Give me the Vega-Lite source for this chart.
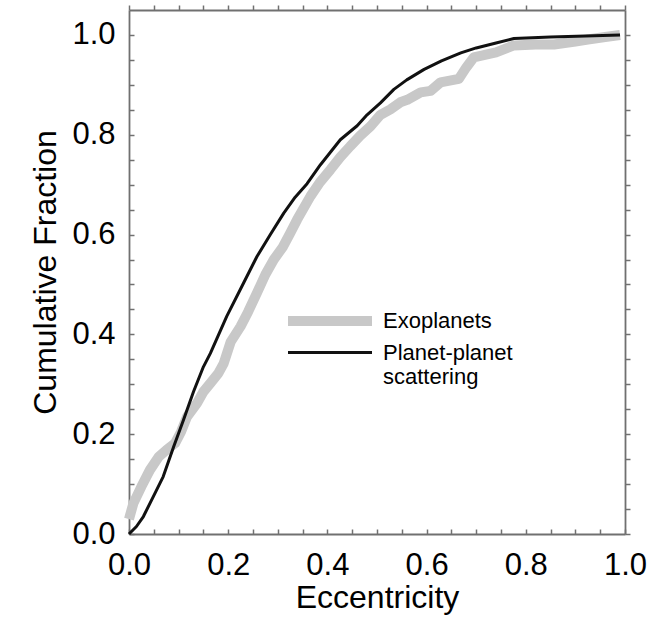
{
  "$schema": "https://vega.github.io/schema/vega-lite/v6.json",
  "width": 496,
  "height": 524,
  "autosize": {"type": "none"},
  "padding": {"left": 129, "top": 10, "right": 26, "bottom": 86},
  "background": "white",
  "config": {
    "view": {"stroke": null},
    "font": "Liberation Sans",
    "axis": {
      "grid": false,
      "domainColor": "#707070",
      "domainWidth": 1.8,
      "tickColor": "#707070",
      "tickWidth": 1.5,
      "tickSize": -5,
      "labelFont": "Liberation Sans",
      "labelFontSize": 31,
      "labelColor": "#000000",
      "labelOverlap": false,
      "labelFlush": false,
      "titleFont": "Liberation Sans",
      "titleFontSize": 32,
      "titleFontWeight": "normal",
      "titleColor": "#000000"
    }
  },
  "datasets": {
    "exo": [
      {"series": "Exoplanets", "e": 0.0, "f": 0.03},
      {"series": "Exoplanets", "e": 0.009, "f": 0.062},
      {"series": "Exoplanets", "e": 0.025, "f": 0.095},
      {"series": "Exoplanets", "e": 0.042, "f": 0.128},
      {"series": "Exoplanets", "e": 0.06, "f": 0.155},
      {"series": "Exoplanets", "e": 0.075, "f": 0.168},
      {"series": "Exoplanets", "e": 0.093, "f": 0.182},
      {"series": "Exoplanets", "e": 0.105, "f": 0.205},
      {"series": "Exoplanets", "e": 0.117, "f": 0.235},
      {"series": "Exoplanets", "e": 0.137, "f": 0.262},
      {"series": "Exoplanets", "e": 0.15, "f": 0.285},
      {"series": "Exoplanets", "e": 0.164, "f": 0.302},
      {"series": "Exoplanets", "e": 0.18, "f": 0.322},
      {"series": "Exoplanets", "e": 0.191, "f": 0.342},
      {"series": "Exoplanets", "e": 0.205, "f": 0.385},
      {"series": "Exoplanets", "e": 0.225, "f": 0.416},
      {"series": "Exoplanets", "e": 0.24, "f": 0.445},
      {"series": "Exoplanets", "e": 0.258, "f": 0.483},
      {"series": "Exoplanets", "e": 0.275, "f": 0.52},
      {"series": "Exoplanets", "e": 0.292, "f": 0.55},
      {"series": "Exoplanets", "e": 0.31, "f": 0.575},
      {"series": "Exoplanets", "e": 0.325, "f": 0.603},
      {"series": "Exoplanets", "e": 0.339, "f": 0.63},
      {"series": "Exoplanets", "e": 0.366, "f": 0.677},
      {"series": "Exoplanets", "e": 0.385, "f": 0.705},
      {"series": "Exoplanets", "e": 0.406, "f": 0.73},
      {"series": "Exoplanets", "e": 0.426, "f": 0.755},
      {"series": "Exoplanets", "e": 0.446, "f": 0.777},
      {"series": "Exoplanets", "e": 0.466, "f": 0.798},
      {"series": "Exoplanets", "e": 0.487, "f": 0.817},
      {"series": "Exoplanets", "e": 0.507, "f": 0.84},
      {"series": "Exoplanets", "e": 0.527, "f": 0.851},
      {"series": "Exoplanets", "e": 0.547, "f": 0.865},
      {"series": "Exoplanets", "e": 0.561, "f": 0.87},
      {"series": "Exoplanets", "e": 0.588, "f": 0.885},
      {"series": "Exoplanets", "e": 0.608, "f": 0.888},
      {"series": "Exoplanets", "e": 0.628, "f": 0.905},
      {"series": "Exoplanets", "e": 0.665, "f": 0.912},
      {"series": "Exoplanets", "e": 0.68, "f": 0.935},
      {"series": "Exoplanets", "e": 0.695, "f": 0.955},
      {"series": "Exoplanets", "e": 0.74, "f": 0.965},
      {"series": "Exoplanets", "e": 0.776, "f": 0.979},
      {"series": "Exoplanets", "e": 0.82, "f": 0.981},
      {"series": "Exoplanets", "e": 0.857, "f": 0.981},
      {"series": "Exoplanets", "e": 0.9, "f": 0.987},
      {"series": "Exoplanets", "e": 0.925, "f": 0.991},
      {"series": "Exoplanets", "e": 0.96, "f": 0.996},
      {"series": "Exoplanets", "e": 0.99, "f": 1.0}
    ],
    "pps": [
      {"series": "Planet-planet scattering", "e": 0.0, "f": 0.0},
      {"series": "Planet-planet scattering", "e": 0.015, "f": 0.015},
      {"series": "Planet-planet scattering", "e": 0.029, "f": 0.035},
      {"series": "Planet-planet scattering", "e": 0.049, "f": 0.075},
      {"series": "Planet-planet scattering", "e": 0.069, "f": 0.115},
      {"series": "Planet-planet scattering", "e": 0.09, "f": 0.175},
      {"series": "Planet-planet scattering", "e": 0.11, "f": 0.229},
      {"series": "Planet-planet scattering", "e": 0.13, "f": 0.285},
      {"series": "Planet-planet scattering", "e": 0.15, "f": 0.335},
      {"series": "Planet-planet scattering", "e": 0.164, "f": 0.362},
      {"series": "Planet-planet scattering", "e": 0.197, "f": 0.436},
      {"series": "Planet-planet scattering", "e": 0.231, "f": 0.503},
      {"series": "Planet-planet scattering", "e": 0.258, "f": 0.556},
      {"series": "Planet-planet scattering", "e": 0.285, "f": 0.6},
      {"series": "Planet-planet scattering", "e": 0.312, "f": 0.643},
      {"series": "Planet-planet scattering", "e": 0.335, "f": 0.675},
      {"series": "Planet-planet scattering", "e": 0.359, "f": 0.702},
      {"series": "Planet-planet scattering", "e": 0.386, "f": 0.74},
      {"series": "Planet-planet scattering", "e": 0.41, "f": 0.77},
      {"series": "Planet-planet scattering", "e": 0.426, "f": 0.79},
      {"series": "Planet-planet scattering", "e": 0.46, "f": 0.818},
      {"series": "Planet-planet scattering", "e": 0.48, "f": 0.84},
      {"series": "Planet-planet scattering", "e": 0.507, "f": 0.864},
      {"series": "Planet-planet scattering", "e": 0.534, "f": 0.891},
      {"series": "Planet-planet scattering", "e": 0.56, "f": 0.91},
      {"series": "Planet-planet scattering", "e": 0.595, "f": 0.931},
      {"series": "Planet-planet scattering", "e": 0.63, "f": 0.948},
      {"series": "Planet-planet scattering", "e": 0.669, "f": 0.964},
      {"series": "Planet-planet scattering", "e": 0.7, "f": 0.974},
      {"series": "Planet-planet scattering", "e": 0.74, "f": 0.984},
      {"series": "Planet-planet scattering", "e": 0.776, "f": 0.993},
      {"series": "Planet-planet scattering", "e": 0.85, "f": 0.996},
      {"series": "Planet-planet scattering", "e": 0.92, "f": 0.998},
      {"series": "Planet-planet scattering", "e": 0.99, "f": 1.0}
    ]
  },
  "layer": [
    {
      "data": {"name": "exo"},
      "mark": {"type": "line", "strokeCap": "butt", "strokeJoin": "round"},
      "encoding": {
        "x": {
          "field": "e", "type": "quantitative",
          "scale": {"domain": [0, 1], "nice": false, "zero": false},
          "axis": {
            "orient": "bottom",
            "title": "Eccentricity",
            "values": [0, 0.05, 0.1, 0.15, 0.2, 0.25, 0.3, 0.35, 0.4, 0.45, 0.5, 0.55, 0.6, 0.65, 0.7, 0.75, 0.8, 0.85, 0.9, 0.95, 1.0],
            "labelExpr": "abs(datum.value*5 - round(datum.value*5)) < 0.01 ? format(datum.value, '.1f') : ''",
            "labelPadding": 21,
            "titlePadding": 2,
            "encode": {"ticks": {"y2": {"value": {"expr": "abs(datum.value*5 - round(datum.value*5)) < 0.01 ? -10 : -5"}}}}
          }
        },
        "y": {
          "field": "f", "type": "quantitative",
          "scale": {"domain": [0, 1.05], "nice": false, "zero": false},
          "axis": {
            "orient": "left",
            "title": "Cumulative Fraction",
            "values": [0, 0.05, 0.1, 0.15, 0.2, 0.25, 0.3, 0.35, 0.4, 0.45, 0.5, 0.55, 0.6, 0.65, 0.7, 0.75, 0.8, 0.85, 0.9, 0.95, 1.0],
            "labelExpr": "abs(datum.value*5 - round(datum.value*5)) < 0.01 ? format(datum.value, '.1f') : ''",
            "labelPadding": 19,
            "titlePadding": 9,
            "encode": {"ticks": {"x2": {"value": {"expr": "abs(datum.value*5 - round(datum.value*5)) < 0.01 ? 10 : 5"}}}}
          }
        },
        "color": {
          "field": "series", "type": "nominal",
          "scale": {"domain": ["Exoplanets", "Planet-planet scattering"], "range": ["#c8c8c8", "#111111"]},
          "legend": {
            "title": null,
            "orient": "none",
            "legendX": 186,
            "legendY": 296,
            "padding": 0,
            "rowPadding": 0,
            "symbolType": "M-4.2,0H4.2",
            "symbolSize": 400,
            "symbolOffset": 0,
            "labelOffset": 38,
            "labelFont": "Liberation Sans",
            "labelFontSize": 22,
            "labelBaseline": "middle",
            "labelColor": "#000000",
            "labelLimit": 300,
            "labelExpr": "datum.label == 'Planet-planet scattering' ? ['Planet-planet', 'scattering'] : datum.label",
            "encode": {"labels": {"lineHeight": {"value": 19}}}
          }
        },
        "strokeWidth": {
          "field": "series", "type": "nominal",
          "scale": {"domain": ["Exoplanets", "Planet-planet scattering"], "range": [10, 3]}
        }
      }
    },
    {
      "data": {"name": "pps"},
      "mark": {"type": "line", "strokeCap": "butt", "strokeJoin": "round"},
      "encoding": {
        "x": {
          "field": "e", "type": "quantitative",
          "axis": {
            "orient": "top",
            "title": null,
            "labels": false,
            "tickSize": 5,
            "values": [0, 0.05, 0.1, 0.15, 0.2, 0.25, 0.3, 0.35, 0.4, 0.45, 0.5, 0.55, 0.6, 0.65, 0.7, 0.75, 0.8, 0.85, 0.9, 0.95, 1.0],
            "encode": {"ticks": {"y2": {"value": {"expr": "abs(datum.value*5 - round(datum.value*5)) < 0.01 ? 10 : 5"}}}}
          }
        },
        "y": {
          "field": "f", "type": "quantitative",
          "axis": {
            "orient": "right",
            "title": null,
            "labels": false,
            "tickSize": 5,
            "values": [0, 0.05, 0.1, 0.15, 0.2, 0.25, 0.3, 0.35, 0.4, 0.45, 0.5, 0.55, 0.6, 0.65, 0.7, 0.75, 0.8, 0.85, 0.9, 0.95, 1.0],
            "encode": {"ticks": {"x2": {"value": {"expr": "abs(datum.value*5 - round(datum.value*5)) < 0.01 ? -10 : -5"}}}}
          }
        },
        "color": {"field": "series", "type": "nominal"},
        "strokeWidth": {"field": "series", "type": "nominal"}
      }
    }
  ],
  "resolve": {"axis": {"x": "independent", "y": "independent"}}
}
